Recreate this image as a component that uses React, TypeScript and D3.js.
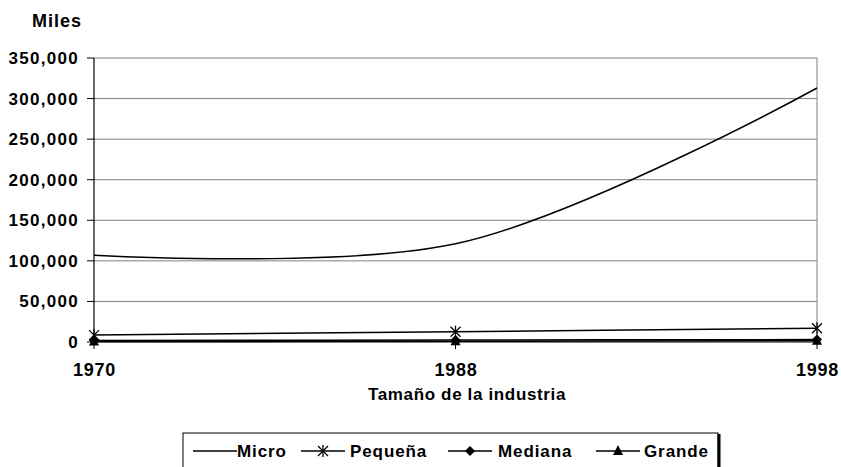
import React from "react";
import * as d3 from "d3";

const categories = ["1970", "1988", "1998"];
const seriesNames = ["Micro", "Pequeña", "Mediana", "Grande"];
const micro = [107000, 121000, 313000];
const pequena = [8500, 12700, 17000];
const mediana = [2000, 2500, 3000];
const grande = [500, 1000, 1500];
const yTicks = [0, 50000, 100000, 150000, 200000, 250000, 300000, 350000];

const W = 841;
const H = 467;
const FONT = "'Liberation Sans', Arial, sans-serif";

function Marker({ type, x, y }: { type: string; x: number; y: number }) {
  if (type === "star") {
    const s = 5;
    return (
      <g stroke="#000" strokeWidth={1.3}>
        <line x1={x - s} y1={y - s} x2={x + s} y2={y + s} />
        <line x1={x - s} y1={y + s} x2={x + s} y2={y - s} />
        <line x1={x} y1={y - s - 1} x2={x} y2={y + s + 1} />
      </g>
    );
  }
  if (type === "diamond") {
    const s = 5;
    return <path d={`M${x},${y - s}L${x + s},${y}L${x},${y + s}L${x - s},${y}Z`} fill="#000" />;
  }
  if (type === "triangle") {
    const s = 5;
    return <path d={`M${x},${y - s - 1}L${x + s},${y + s - 1}L${x - s},${y + s - 1}Z`} fill="#000" />;
  }
  return null;
}

export default function App() {
  const left = 94, right = 817, top = 58, bottom = 342;
  const x = d3.scalePoint<string>().domain(categories).range([left, right]);
  const y = d3.scaleLinear().domain([0, 350000]).range([bottom, top]);
  const line = d3
    .line<number>()
    .x((_, i) => x(categories[i]) as number)
    .y((d) => y(d))
    .curve(d3.curveCatmullRom.alpha(1));

  const series = [
    { name: seriesNames[0], values: micro, marker: "none" },
    { name: seriesNames[1], values: pequena, marker: "star" },
    { name: seriesNames[2], values: mediana, marker: "diamond" },
    { name: seriesNames[3], values: grande, marker: "triangle" },
  ];

  const legendItems = [
    { lx: 193, tx: 237 },
    { lx: 301, tx: 350 },
    { lx: 448, tx: 498 },
    { lx: 596, tx: 644 },
  ];

  return (
    <svg width={W} height={H} style={{ position: "absolute", left: 0, top: 0, background: "#fff" }} fontFamily={FONT}>
      <rect x={0} y={0} width={W} height={H} fill="#fff" />
      <text x={32} y={27} fontSize={18} fontWeight="bold" letterSpacing={1}>Miles</text>
      {yTicks.map((t) => (
        <g key={t}>
          {t > 0 && <line x1={left} x2={right} y1={y(t)} y2={y(t)} stroke="#808080" strokeWidth={1} />}
          <line x1={left - 7} x2={left} y1={y(t)} y2={y(t)} stroke="#000" strokeWidth={1} />
          <text x={79} y={y(t) + 6} fontSize={17} fontWeight="bold" textAnchor="end" letterSpacing={1.3}>
            {d3.format(",")(t)}
          </text>
        </g>
      ))}
      <line x1={right} x2={right} y1={top} y2={bottom} stroke="#808080" strokeWidth={1} />
      <line x1={left} x2={left} y1={top} y2={bottom} stroke="#000" strokeWidth={1.2} />
      <line x1={left} x2={right} y1={bottom} y2={bottom} stroke="#000" strokeWidth={1.2} />
      {categories.map((c) => (
        <g key={c}>
          <line x1={x(c)} x2={x(c)} y1={bottom} y2={bottom + 7} stroke="#000" />
          <text x={(x(c) as number) + 0.5} y={376} fontSize={18} fontWeight="bold" textAnchor="middle" letterSpacing={0.8}>{c}</text>
        </g>
      ))}
      <text x={467} y={400} fontSize={17} fontWeight="bold" textAnchor="middle" letterSpacing={0.65}>Tamaño de la industria</text>
      {series.map((s) => (
        <g key={s.name}>
          <path d={line(s.values) || ""} fill="none" stroke="#000" strokeWidth={1.5} />
          {s.values.map((v, i) => (
            <Marker key={i} type={s.marker} x={x(categories[i]) as number} y={y(v)} />
          ))}
        </g>
      ))}
      <rect x={183} y={433} width={535} height={40} fill="#fff" stroke="#000" strokeWidth={1} />
      <line x1={719} x2={719} y1={434} y2={H} stroke="#000" strokeWidth={3} />
      {series.map((s, i) => {
        const it = legendItems[i];
        const ly = 451;
        return (
          <g key={s.name}>
            <line x1={it.lx} x2={it.lx + 44} y1={ly} y2={ly} stroke="#000" strokeWidth={1.3} />
            <Marker type={s.marker} x={it.lx + 22} y={ly} />
            <text x={it.tx} y={457} fontSize={17} fontWeight="bold" letterSpacing={0.9}>{s.name}</text>
          </g>
        );
      })}
    </svg>
  );
}
